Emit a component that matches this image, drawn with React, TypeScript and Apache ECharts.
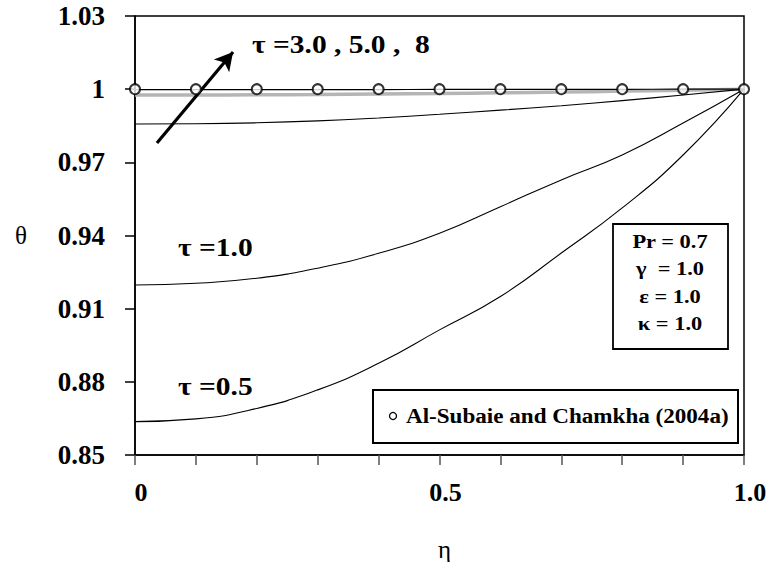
import React, { useEffect, useRef } from "react";
import * as echarts from "echarts";

const etaValues = [0, 0.1, 0.2, 0.3, 0.4, 0.5, 0.6, 0.7, 0.8, 0.9, 1.0];
const theta05 = [0.8637, 0.8648, 0.8691, 0.8767, 0.8876, 0.9013, 0.915, 0.9328, 0.9513, 0.973, 1.0];
const theta10 = [0.9197, 0.9204, 0.9225, 0.9266, 0.9327, 0.9409, 0.9518, 0.9628, 0.973, 0.9861, 1.0];
const theta30 = [0.9857, 0.9858, 0.9862, 0.987, 0.9882, 0.9897, 0.9914, 0.9932, 0.9953, 0.9976, 1.0];
const theta50 = [0.9976, 0.9976, 0.9977, 0.9978, 0.998, 0.9982, 0.9985, 0.9988, 0.9992, 0.9996, 1.0];
const theta80 = [0.9998, 0.9998, 0.9998, 0.9998, 0.9998, 0.9999, 0.9999, 0.9999, 0.9999, 1.0, 1.0];
const refTheta = [1.0, 1.0, 1.0, 1.0, 1.0, 1.0, 1.0, 1.0, 1.0, 1.0, 1.0];
const xTickLabels = ["0", "0.5", "1.0"];
const yTickLabels = ["0.85", "0.88", "0.91", "0.94", "0.97", "1", "1.03"];
const paramLines = ["Pr = 0.7", "γ  = 1.0", "ε = 1.0", "κ = 1.0"];
const legendText = "Al-Subaie and Chamkha (2004a)";
const arrowStart = [0.036, 0.9779];
const arrowEnd = [0.161, 1.0152];

const FONT = "'Liberation Serif', 'Times New Roman', serif";

const pair = (ys: number[]) => etaValues.map((x, i) => [x, ys[i]]);

export default function App() {
  const ref = useRef<HTMLDivElement>(null);
  useEffect(() => {
    if (!ref.current) return;
    const chart = echarts.init(ref.current, null, { renderer: "svg" });
    const lineSeries = (name: string, ys: number[], color: string, width: number, z: number) => ({
      name,
      type: "line",
      data: pair(ys),
      smooth: true,
      showSymbol: false,
      symbol: "none",
      lineStyle: { color, width },
      z,
    });
    const bigText = (text: string, x: number, y: number) => ({
      type: "text",
      x,
      y,
      scaleX: 1.18,
      style: { text, fontFamily: FONT, fontWeight: "bold", fontSize: 25, fill: "#000", verticalAlign: "middle" },
    });
    chart.setOption({
      animation: false,
      backgroundColor: "#ffffff",
      grid: {
        left: 135,
        right: 25,
        top: 16,
        bottom: 107,
        show: true,
        borderColor: "#000",
        borderWidth: 1.5,
        containLabel: false,
        outerBoundsMode: "none",
      },
      xAxis: {
        type: "value",
        min: 0,
        max: 1,
        interval: 0.1,
        name: "η",
        nameLocation: "middle",
        nameGap: 82,
        nameTextStyle: { fontFamily: FONT, fontSize: 25, lineHeight: 24, color: "#000", padding: [0, 0, 0, 10] },
        axisLine: { show: true, lineStyle: { color: "#000", width: 1.5 } },
        axisTick: { show: true, length: 10, lineStyle: { color: "#555", width: 1.5 } },
        splitLine: { show: false },
        axisLabel: {
          margin: 24,
          fontFamily: FONT,
          fontWeight: "bold",
          fontSize: 26,
          color: "#000",
          padding: [0, 0, 0, 12],
          formatter: (v: number) => {
            if (Math.abs(v) < 1e-6) return xTickLabels[0];
            if (Math.abs(v - 0.5) < 1e-6) return xTickLabels[1];
            if (Math.abs(v - 1) < 1e-6) return xTickLabels[2];
            return "";
          },
        },
      },
      yAxis: {
        type: "value",
        min: 0.85,
        max: 1.03,
        interval: 0.03,
        name: "θ",
        nameLocation: "middle",
        nameRotate: 0,
        nameGap: 108,
        nameTextStyle: { fontFamily: FONT, fontSize: 25, color: "#000" },
        axisLine: { show: true, lineStyle: { color: "#000", width: 1.5 } },
        axisTick: { show: true, length: 10, lineStyle: { color: "#000", width: 1.5 } },
        splitLine: { show: false },
        axisLabel: {
          margin: 30,
          fontFamily: FONT,
          fontWeight: "bold",
          fontSize: 27,
          color: "#000",
          formatter: (v: number) => {
            const idx = Math.round((v - 0.85) / 0.03);
            return yTickLabels[idx] ?? "";
          },
        },
      },
      series: [
        lineSeries("τ=0.5", theta05, "#000", 1.1, 3),
        lineSeries("τ=1.0", theta10, "#000", 1.1, 3),
        lineSeries("τ=3.0", theta30, "#000", 1.1, 3),
        lineSeries("τ=5.0", theta50, "#b5b5b5", 3.5, 2),
        lineSeries("τ=8", theta80, "#000", 1.1, 4),
        {
          name: legendText,
          type: "scatter",
          data: pair(refTheta),
          symbol: "emptyCircle",
          symbolSize: 10,
          itemStyle: { color: "#000", borderColor: "#000", borderWidth: 1.2 },
          z: 5,
          markLine: {
            silent: true,
            symbol: ["none", "arrow"],
            symbolSize: [15, 18],
            label: { show: false },
            lineStyle: { color: "#000", width: 3.2, type: "solid" },
            data: [[{ coord: arrowStart }, { coord: arrowEnd }]],
          },
        },
      ],
      graphic: [
        bigText("τ =3.0 , 5.0 ,  8", 252, 45),
        bigText("τ =1.0", 178, 248),
        bigText("τ =0.5", 178, 387),
        {
          type: "rect",
          shape: { x: 613, y: 224, width: 115, height: 125 },
          style: { fill: "#fff", stroke: "#000", lineWidth: 1.8 },
          z: 10,
        },
        ...paramLines.map((t, i) => ({
          type: "text",
          x: 670,
          y: 241 + i * 27.5,
          scaleX: 1.18,
          style: {
            text: t,
            fontFamily: FONT,
            fontWeight: "bold",
            fontSize: 19,
            fill: "#000",
            align: "center",
            verticalAlign: "middle",
          },
          z: 11,
        })),
        {
          type: "rect",
          shape: { x: 373, y: 390, width: 365, height: 53 },
          style: { fill: "#fff", stroke: "#000", lineWidth: 2 },
          z: 10,
        },
        {
          type: "circle",
          shape: { cx: 393, cy: 416, r: 3.5 },
          style: { fill: "#fff", stroke: "#000", lineWidth: 1.3 },
          z: 11,
        },
        {
          type: "text",
          x: 406,
          y: 416,
          scaleX: 1.1,
          style: {
            text: legendText,
            fontFamily: FONT,
            fontWeight: "bold",
            fontSize: 21,
            fill: "#000",
            verticalAlign: "middle",
          },
          z: 11,
        },
      ],
    });
    return () => chart.dispose();
  }, []);
  return (
    <div
      ref={ref}
      style={{ position: "fixed", left: 0, top: 0, width: 769, height: 562, background: "#fff" }}
    />
  );
}
